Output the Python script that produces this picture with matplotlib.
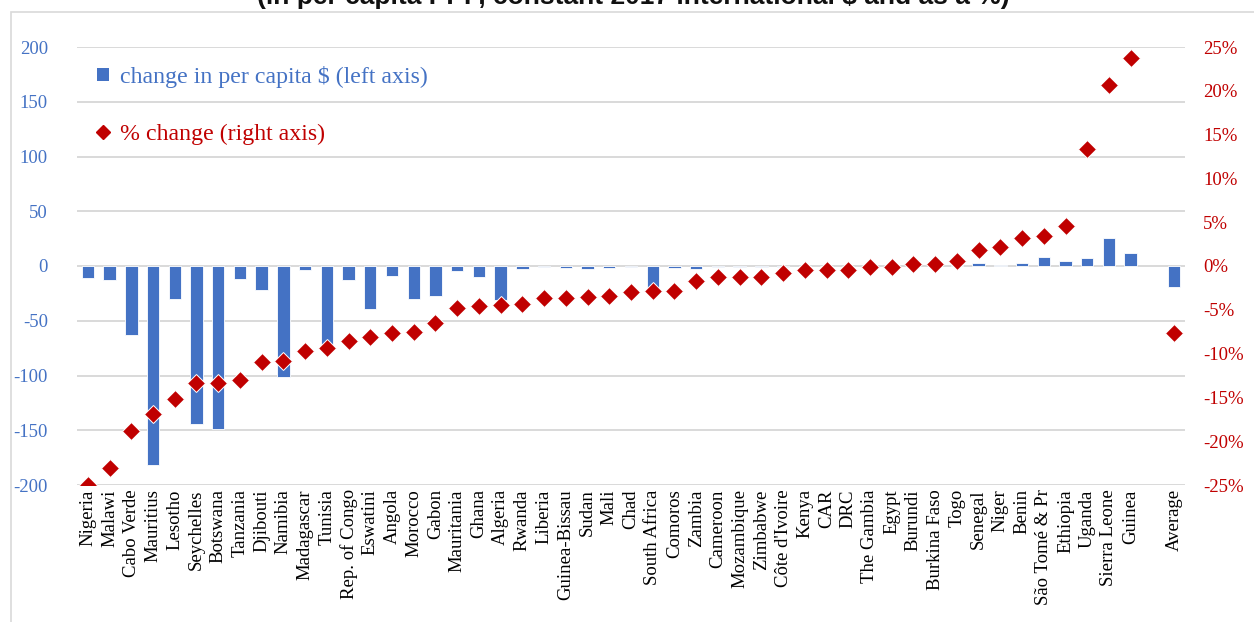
import numpy as np
import matplotlib
matplotlib.use("Agg")
import matplotlib.pyplot as plt
from matplotlib.lines import Line2D
from matplotlib.patches import Patch, Rectangle
from matplotlib.ticker import FuncFormatter

plt.rcParams["axes.unicode_minus"] = False

BLUE = "#4472C4"
RED = "#C00000"
GRID = "#D9D9D9"

countries = [
    "Nigeria", "Malawi", "Cabo Verde", "Mauritius", "Lesotho", "Seychelles",
    "Botswana", "Tanzania", "Djibouti", "Namibia", "Madagascar", "Tunisia",
    "Rep. of Congo", "Eswatini", "Angola", "Morocco", "Gabon", "Mauritania",
    "Ghana", "Algeria", "Rwanda", "Liberia", "Guinea-Bissau", "Sudan", "Mali",
    "Chad", "South Africa", "Comoros", "Zambia", "Cameroon", "Mozambique",
    "Zimbabwe", "Côte d'Ivoire", "Kenya", "CAR", "DRC", "The Gambia", "Egypt",
    "Burundi", "Burkina Faso", "Togo", "Senegal", "Niger", "Benin",
    "São Tomé & Pr", "Ethiopia", "Uganda", "Sierra Leone", "Guinea",
    "", "Average",
]

# change in per capita PPP $ (left axis); blank slot before the average
usd_change = [
    -11, -13, -63, -182, -30, -144, -149, -12, -22, -101, -4, -72,
    -13, -39, -9, -30, -27, -4.5, -10, -31, -3, -1, -2, -3, -2,
    -1, -20, -1.5, -2.5, -1, -1, -1, -0.5, -0.5, -0.3, -0.3, 0, 0.3,
    0.2, 0.3, 0.5, 3, 0.5, 3, 8, 4.5, 7.5, 26, 11.5,
    np.nan, -19.5,
]

# percent change (right axis)
pct_change = [
    -25.0, -23.1, -18.8, -16.9, -15.2, -13.4, -13.3, -13.0, -11.0, -10.8,
    -9.7, -9.4, -8.6, -8.1, -7.7, -7.5, -6.5, -4.8, -4.6, -4.5, -4.3, -3.7,
    -3.6, -3.5, -3.4, -3.0, -2.9, -2.8, -1.7, -1.3, -1.3, -1.2, -0.8, -0.5,
    -0.4, -0.4, -0.1, -0.1, 0.2, 0.2, 0.6, 1.8, 2.2, 3.2, 3.4, 4.6, 13.3,
    20.7, 23.8, np.nan, -7.7,
]

left_ticks = [-200, -150, -100, -50, 0, 50, 100, 150, 200]
right_ticks = [-25, -20, -15, -10, -5, 0, 5, 10, 15, 20, 25]

W, H = 1254, 622
fig = plt.figure(figsize=(W / 100, H / 100), dpi=100)
ax = fig.add_axes([77 / W, 1 - 485 / H, (1185 - 77) / W, (485 - 47) / H])
ax2 = ax.twinx()

x = np.arange(len(countries))
ax.bar(x, usd_change, width=0.57, color=BLUE, edgecolor="white", linewidth=0.6, zorder=2)
ax2.plot(x, pct_change, linestyle="none", marker="D", markersize=8.8,
         color=RED, markeredgecolor="white", markeredgewidth=0.7, zorder=3)

ax.set_xlim(-0.5, len(countries) - 0.5)
ax.set_ylim(-200, 200)
ax2.set_ylim(-25, 25)
ax.set_yticks(left_ticks)
ax2.set_yticks(right_ticks)
ax2.yaxis.set_major_formatter(FuncFormatter(lambda v, _: f"{v:.0f}%"))

ax.set_axisbelow(True)
ax.grid(axis="y", color=GRID, linewidth=1.4, zorder=0)
for a in (ax, ax2):
    for s in a.spines.values():
        s.set_visible(False)

ax.set_xticks(x)
ax.set_xticklabels(countries, rotation=90, fontsize=13.5, family="Liberation Serif")
ax.tick_params(axis="x", length=0, pad=3)
ax.tick_params(axis="y", length=0, pad=21, labelsize=13.5, labelcolor=BLUE)
ax2.tick_params(axis="y", length=0, pad=13, labelsize=13.5, labelcolor=RED)
for lbl in ax.get_yticklabels() + ax2.get_yticklabels():
    lbl.set_family("Liberation Serif")

handles = [
    Patch(facecolor=BLUE, edgecolor="none"),
    Line2D([], [], linestyle="none", marker="D", markersize=7.5, color=RED),
]
leg = ax.legend(handles, ["change in per capita $ (left axis)", "% change (right axis)"],
                loc="upper left", bbox_to_anchor=(97 / W, 1 - 66 / H),
                bbox_transform=fig.transFigure, frameon=False,
                prop={"family": "Liberation Serif", "size": 17.2},
                labelcolor=[BLUE, RED], handlelength=0.5, handleheight=0.5,
                handletextpad=0.46, labelspacing=1.5, borderpad=0, borderaxespad=0)

# outer chart border
fig.patches.append(Rectangle((11 / W, -0.1), 1.2, 1.1 - 12 / H, transform=fig.transFigure,
                             fill=False, edgecolor=GRID, linewidth=1.2))

fig.text(633 / W, 1 - 4 / H, "(in per capita PPP, constant 2017 international $ and as a %)",
         ha="center", va="baseline", fontsize=19, fontweight="bold",
         family="Liberation Sans", color="#111111")

fig.savefig("out.png", dpi=100)
